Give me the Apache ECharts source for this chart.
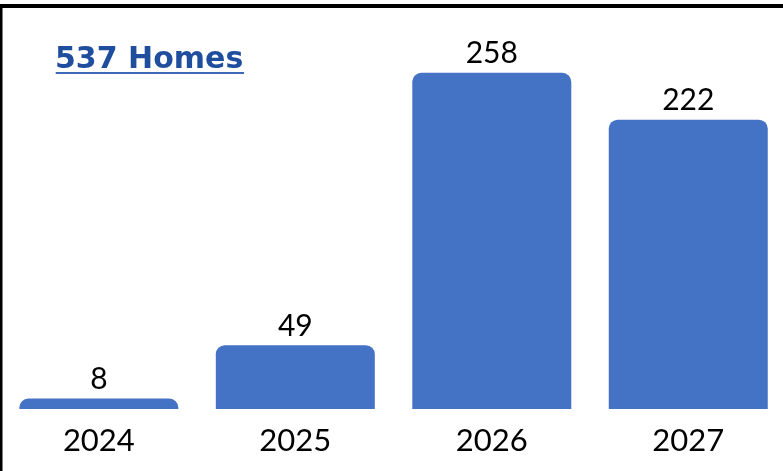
<!DOCTYPE html>
<html>
<head>
<meta charset="utf-8">
<script src="https://cdn.jsdelivr.net/npm/echarts@6/dist/echarts.min.js"></script>
<style>
html,body{margin:0;padding:0;background:#fff;}
#c{width:783px;height:471px;}
</style>
</head>
<body>
<div id="c"></div>
<script>
var categories = ['2024', '2025', '2026', '2027'];
var homes = [8, 49, 258, 222];
var titleText = '537 Homes';

var chart = echarts.init(document.getElementById('c'), null, {renderer: 'canvas'});
chart.setOption({
  animation: false,
  backgroundColor: '#ffffff',
  title: {
    text: titleText,
    left: 55,
    top: 45,
    padding: 0,
    textStyle: {
      fontFamily: 'DejaVu Sans',
      fontWeight: 'bold',
      fontSize: 30,
      color: '#1f4e9e'
    }
  },
  grid: {left: 0.6, right: -3.5, top: 18, bottom: 62, containLabel: false, outerBoundsMode: 'none'},
  xAxis: {
    type: 'category',
    data: categories,
    axisLine: {show: false},
    axisTick: {show: false},
    axisLabel: {
      margin: 16,
      fontFamily: 'Lato',
      fontSize: 31,
      color: '#000000'
    }
  },
  yAxis: {
    type: 'value',
    min: 0,
    max: 300,
    show: false,
    splitLine: {show: false}
  },
  series: [{
    type: 'bar',
    data: homes,
    barWidth: 159,
    itemStyle: {color: '#4472c4', borderRadius: [9, 9, 0, 0]},
    label: {
      show: true,
      position: 'top',
      distance: 4,
      fontFamily: 'Lato',
      fontSize: 30,
      color: '#000000'
    }
  }],
  graphic: [
    {type: 'rect', shape: {x: 0, y: 4, width: 783, height: 4}, style: {fill: '#000000'}, z: 100},
    {type: 'rect', shape: {x: 0, y: 4, width: 2.5, height: 467}, style: {fill: '#000000'}, z: 100},
    {type: 'line', shape: {x1: 55.7, y1: 73, x2: 244, y2: 73}, style: {stroke: '#3d68b8', lineWidth: 2}, z: 100}
  ]
});
</script>
</body>
</html>
